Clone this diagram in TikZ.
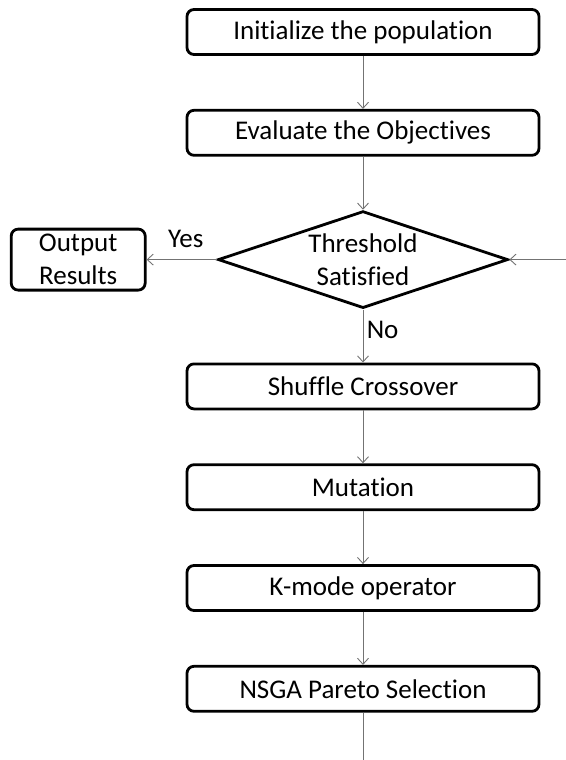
\documentclass[tikz,border=0pt]{standalone}
\usepackage{fontspec}
\setmainfont{Carlito}[Ligatures={NoCommon,NoContextual,NoDiscretionary}]
\usetikzlibrary{positioning,shapes.geometric,arrows.meta}

\begin{document}
\begin{tikzpicture}
[
    x = 1pt, y = 1pt,
    node distance = 53pt and 70pt,
    nodestyle/.style = {draw,
                        line width=2.8pt,
                        rounded corners=7pt,
                        minimum width=352pt,
                        minimum height=45pt,
                        font=\fontsize{27}{33}\selectfont},
    smallbox/.style  = {nodestyle,
                        minimum width=134pt,
                        minimum height=61pt,
                        align=center},
    decision/.style  = {draw, diamond,
                        line width=2.8pt,
                        inner sep=0pt,
                        aspect=2.96,
                        minimum width=290pt,
                        minimum height=97pt,
                        align=center,
                        font=\fontsize{27}{33}\selectfont},
    arr/.style       = {line width=0.9pt,
                        draw=black!55,
                        -{Straight Barb[length=6pt,width=11pt]}},
    lbl/.style       = {font=\fontsize{27}{33}\selectfont}
]

\useasboundingbox (0,0) rectangle (565,-760);

\node (init) [nodestyle] at (363,-32) {
Initialize the population
};
\node (eval) [nodestyle, below=of init] {
Evaluate the Objectives
};

\draw[arr] (init) -- (eval);

\node (thr) [decision, below=of eval] {
Threshold\\Satisfied
};

\draw[arr] (eval) -- (thr);

\node (out) [smallbox, left=of thr] {
Output\\Results
};

\draw[arr] (thr) -- node[lbl, above=8pt, pos=0.44] {Yes} (out);

\node (cross) [nodestyle, below=of thr] {
Shuffle Crossover
};

\draw[arr] (thr) -- node[lbl, right, pos=0.38] {No} (cross);

\node (mut) [nodestyle, below=of cross] {
Mutation
};

\draw[arr] (cross) -- (mut);

\node (kmode) [nodestyle, below=of mut] {
K-mode operator
};

\draw[arr] (mut) -- (kmode);

\node (nsga) [nodestyle, below=of kmode] {
NSGA Pareto Selection
};

\draw[arr] (kmode) -- (nsga);

% loop back into the decision
\path (nsga.south) ++(0,-52) coordinate (stop);
\path (thr.east) ++(57,0) coordinate (back);

\draw[arr, -] (nsga) -- (stop);
\draw[arr] (back) -- (thr.east);

\end{tikzpicture}
\end{document}
